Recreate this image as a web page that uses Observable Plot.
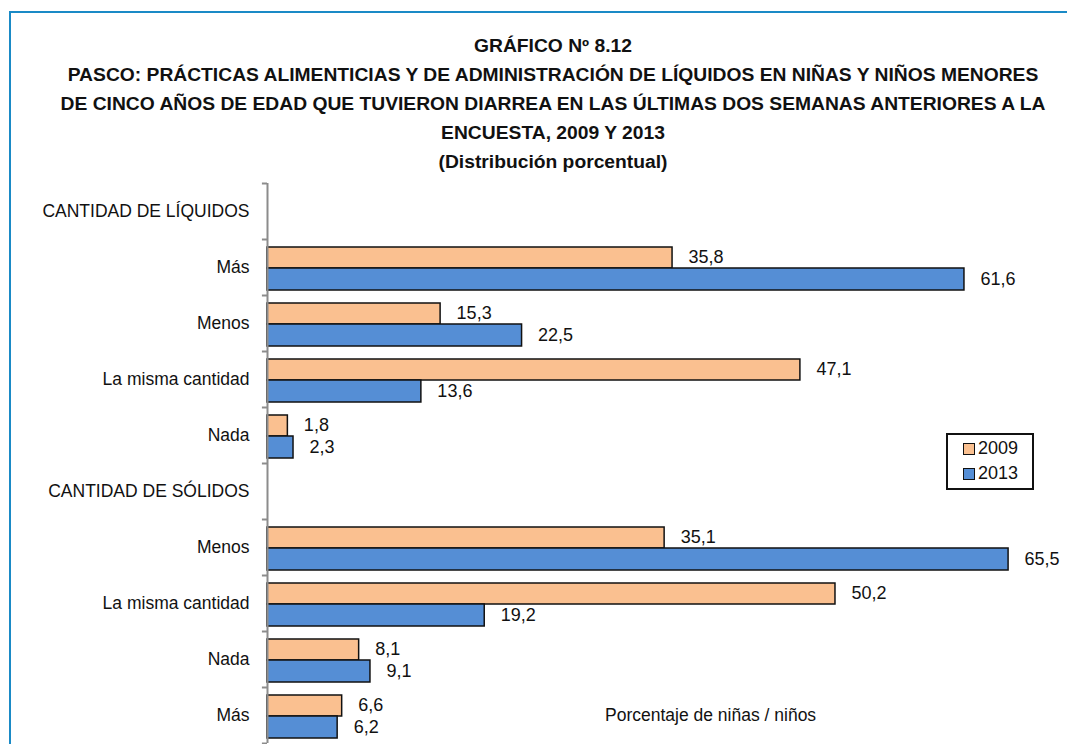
<!DOCTYPE html>
<html>
<head>
<meta charset="utf-8">
<script src="https://cdn.jsdelivr.net/npm/d3@7"></script>
<script src="https://cdn.jsdelivr.net/npm/@observablehq/plot@0.6"></script>
<style>
  html, body { margin: 0; padding: 0; background: #fff; }
  body { width: 1067px; height: 744px; overflow: hidden; position: relative;
         font-family: "Liberation Sans", Arial, sans-serif; }
  #frame { position: absolute; left: 9px; top: 11px; width: 1070px; height: 800px;
           border-left: 2px solid #1a8ac6; border-top: 2px solid #1a8ac6; }
  #title { position: absolute; left: 0; width: 1106px; top: 32px; text-align: center;
           font-weight: bold; font-size: 18px; line-height: 29px; color: #111;
           transform: scaleX(1.07); transform-origin: 553px 0; }
  #chart { position: absolute; left: 0; top: 0; }
  #legend { position: absolute; left: 946px; top: 433px; width: 88px; height: 57px;
            border: 2px solid #111; box-sizing: border-box; font-size: 18px; color: #111; }
  .li { position: absolute; left: 15px; display: flex; align-items: center; }
  .sw { width: 10px; height: 10px; border: 1.5px solid #111; margin-right: 3px; }
  #xlabel { position: absolute; left: 605px; top: 705px; font-size: 17.5px; color: #111; }
</style>
</head>
<body>
<div id="frame"></div>
<div id="title">GRÁFICO Nº 8.12<br>PASCO: PRÁCTICAS ALIMENTICIAS Y DE ADMINISTRACIÓN DE LÍQUIDOS EN NIÑAS Y NIÑOS MENORES<br>DE CINCO AÑOS DE EDAD QUE TUVIERON DIARREA EN LAS ÚLTIMAS DOS SEMANAS ANTERIORES A LA<br>ENCUESTA, 2009 Y 2013<br>(Distribución porcentual)</div>
<div id="chart"></div>
<div id="legend">
  <div class="li" style="top:3px"><div class="sw" style="background:#FAC090"></div>2009</div>
  <div class="li" style="top:28px"><div class="sw" style="background:#558ED5"></div>2013</div>
</div>
<div id="xlabel">Porcentaje de niñas / niños</div>
<script>
// Data
const rowKeys = ["hL", "L-Más", "L-Menos", "L-Misma", "L-Nada", "hS", "S-Menos", "S-Misma", "S-Nada", "S-Más"];
const rowLabels = ["CANTIDAD DE LÍQUIDOS", "Más", "Menos", "La misma cantidad", "Nada",
                   "CANTIDAD DE SÓLIDOS", "Menos", "La misma cantidad", "Nada", "Más"];
const dataRows = ["L-Más", "L-Menos", "L-Misma", "L-Nada", "S-Menos", "S-Misma", "S-Nada", "S-Más"];
const values2009 = [35.8, 15.3, 47.1, 1.8, 35.1, 50.2, 8.1, 6.6];
const values2013 = [61.6, 22.5, 13.6, 2.3, 65.5, 19.2, 9.1, 6.2];

const d2009 = dataRows.map((r, i) => ({row: r, value: values2009[i]}));
const d2013 = dataRows.map((r, i) => ({row: r, value: values2013[i]}));
const labelOf = new Map(rowKeys.map((k, i) => [k, rowLabels[i]]));
const fmt = v => v.toFixed(1).replace(".", ",");
const lastRow = [rowKeys[rowKeys.length - 1]];
const tickLen = 0.45; // tick length in x units (~5px)

const chart = Plot.plot({
  width: 1067,
  height: 744,
  marginTop: 183,
  marginBottom: 1,
  marginLeft: 267,
  marginRight: 8,
  style: {fontFamily: '"Liberation Sans", Arial, sans-serif', fontSize: "18px", color: "#111", background: "transparent"},
  x: {domain: [0, 70], axis: null},
  y: {domain: rowKeys, paddingInner: 0, paddingOuter: 0, axis: null},
  marks: [
    Plot.barX(d2009, {x: "value", y: "row", fill: "#FAC090", stroke: "#111", strokeWidth: 1.5, insetTop: 8, insetBottom: 27}),
    Plot.barX(d2013, {x: "value", y: "row", fill: "#558ED5", stroke: "#111", strokeWidth: 1.5, insetTop: 29, insetBottom: 5}),
    Plot.text(d2009, {x: "value", y: "row", text: d => fmt(d.value), dx: 16, dy: -10, textAnchor: "start", fill: "#111", fontSize: 18}),
    Plot.text(d2013, {x: "value", y: "row", text: d => fmt(d.value), dx: 16, dy: 12, textAnchor: "start", fill: "#111", fontSize: 18}),
    Plot.axisY({tickSize: 0, tickPadding: 18, tickFormat: k => labelOf.get(k), fontSize: 17.5, label: null}),
    Plot.ruleX([0], {stroke: "#8c8c8c", strokeWidth: 2}),
    Plot.ruleY(rowKeys, {y: d => d, x1: -tickLen, x2: 0, dy: -28, stroke: "#8c8c8c", strokeWidth: 2}),
    Plot.ruleY(lastRow, {y: d => d, x1: -tickLen, x2: 0, dy: 28, stroke: "#8c8c8c", strokeWidth: 2})
  ]
});
document.getElementById("chart").appendChild(chart);
</script>
</body>
</html>
